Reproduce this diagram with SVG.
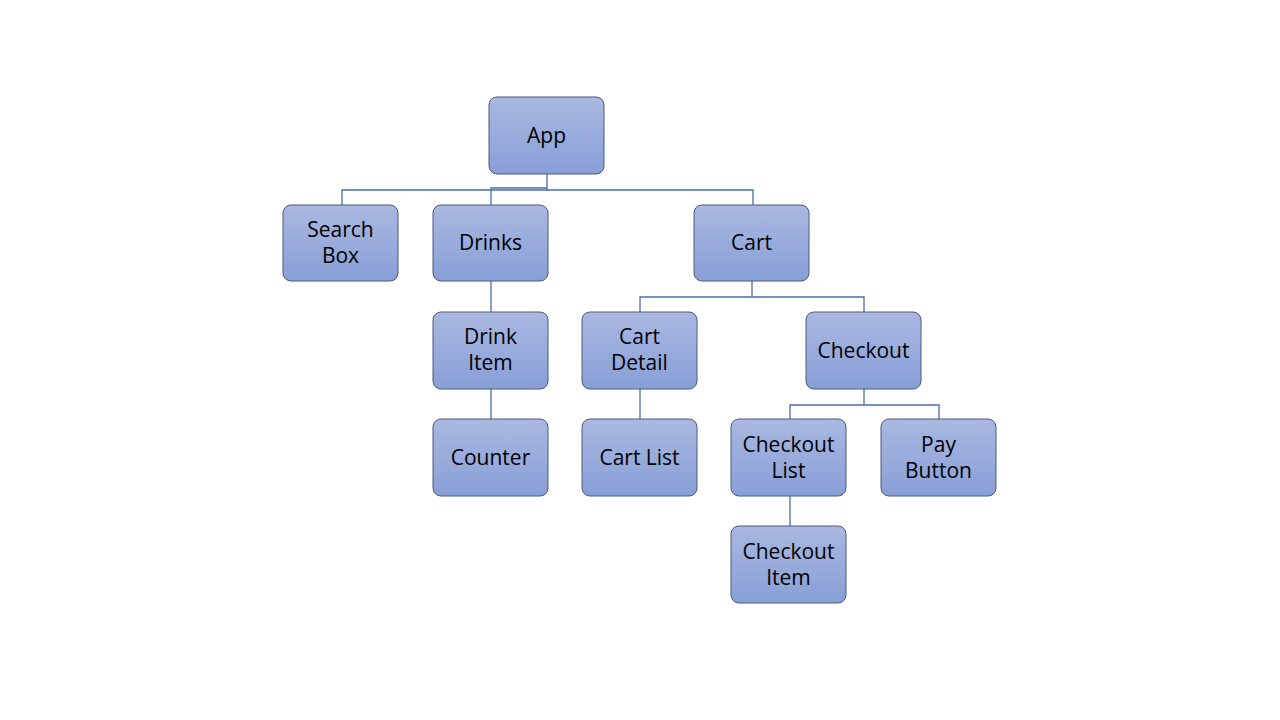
<svg xmlns="http://www.w3.org/2000/svg" width="1280" height="720" viewBox="0 0 1280 720">
<defs>
<linearGradient id="g" x1="0" y1="0" x2="0" y2="1">
<stop offset="0" stop-color="#aab8e1"/>
<stop offset="1" stop-color="#879fd7"/>
</linearGradient>
<style>
.n rect{fill:url(#g);stroke:#4a5a78;stroke-width:1}
.n text{font-family:"Open Sans","Liberation Sans",sans-serif;font-size:21px;fill:#000;text-anchor:middle}
.c path{fill:none;stroke:#4a6ea8;stroke-width:1.3}
</style>
</defs>
<rect width="1280" height="720" fill="#fff"/>
<g id="connectors" class="c">
<path d="M547 174V190M342 205V190H753V205"/>
<path d="M547 188H491V205"/>
<path d="M491 281V312M491 389V419"/>
<path d="M752 281V297M640 312V297H864V312"/>
<path d="M640 389V419"/>
<path d="M864 389V405M790 419V405H939V419"/>
<path d="M790 496V526"/>
</g>
<g id="app" class="n"><rect x="489" y="97" width="115" height="77" rx="8"/><text x="546.5" y="143">App</text></g>
<g id="searchbox" class="n"><rect x="283" y="205" width="115" height="76" rx="8"/><text x="340.5" y="237">Search</text><text x="340.5" y="263">Box</text></g>
<g id="drinks" class="n"><rect x="433" y="205" width="115" height="76" rx="8"/><text x="490.5" y="250">Drinks</text></g>
<g id="cart" class="n"><rect x="694" y="205" width="115" height="76" rx="8"/><text x="751.5" y="250">Cart</text></g>
<g id="drinkitem" class="n"><rect x="433" y="312" width="115" height="77" rx="8"/><text x="490.5" y="344">Drink</text><text x="490.5" y="370">Item</text></g>
<g id="cartdetail" class="n"><rect x="582" y="312" width="115" height="77" rx="8"/><text x="639.5" y="344">Cart</text><text x="639.5" y="370">Detail</text></g>
<g id="checkout" class="n"><rect x="806" y="312" width="115" height="77" rx="8"/><text x="863.5" y="358">Checkout</text></g>
<g id="counter" class="n"><rect x="433" y="419" width="115" height="77" rx="8"/><text x="490.5" y="465">Counter</text></g>
<g id="cartlist" class="n"><rect x="582" y="419" width="115" height="77" rx="8"/><text x="639.5" y="465">Cart List</text></g>
<g id="checkoutlist" class="n"><rect x="731" y="419" width="115" height="77" rx="8"/><text x="788.5" y="452">Checkout</text><text x="788.5" y="478">List</text></g>
<g id="paybutton" class="n"><rect x="881" y="419" width="115" height="77" rx="8"/><text x="938.5" y="452">Pay</text><text x="938.5" y="478">Button</text></g>
<g id="checkoutitem" class="n"><rect x="731" y="526" width="115" height="77" rx="8"/><text x="788.5" y="559">Checkout</text><text x="788.5" y="585">Item</text></g>
</svg>
